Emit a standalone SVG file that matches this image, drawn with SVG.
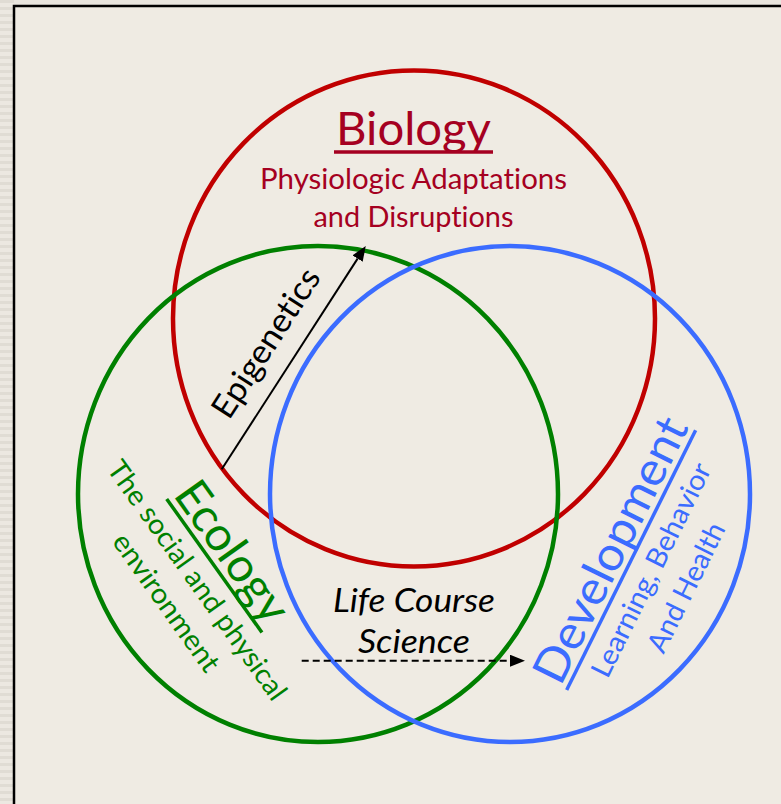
<svg xmlns="http://www.w3.org/2000/svg" width="781" height="804" viewBox="0 0 781 804">
<defs>
<style>
.t{font-family:Lato,"Open Sans","Noto Sans",sans-serif;font-variant-ligatures:none}
.ring{fill:none;stroke-width:4.5}
.bio{fill:#a50021}
.eco{fill:#008000}
.dev{fill:#3b6cff}
.conn{stroke:#000;stroke-width:2;fill:none}
</style>
<pattern id="stripes" width="14" height="7" patternUnits="userSpaceOnUse">
<rect width="14" height="7" fill="#ece8e1"/>
<rect width="14" height="3" fill="#e0dcd4"/>
</pattern>
<marker id="ah" markerUnits="userSpaceOnUse" markerWidth="16" markerHeight="12" refX="0" refY="6" orient="auto">
<path d="M0,0 L15,6 L0,12 z" fill="#000"/>
</marker>
</defs>
<rect width="781" height="804" fill="#e9e5de"/>
<rect x="0" y="0" width="14" height="804" fill="url(#stripes)"/>
<rect x="14" y="6" width="800" height="820" fill="#efebe3" stroke="#000" stroke-width="2.5"/>

<g id="biology">
<ellipse class="ring" cx="414" cy="318.5" rx="241" ry="248" stroke="#c00000"/>
<text class="t bio" x="413.5" y="145" font-size="47" text-anchor="middle" textLength="155" lengthAdjust="spacingAndGlyphs">Biology</text>
<line x1="334" y1="152" x2="493" y2="152" stroke="#a50021" stroke-width="3.5"/>
<text class="t bio" x="413.5" y="189" font-size="28" text-anchor="middle" textLength="307" lengthAdjust="spacingAndGlyphs">Physiologic Adaptations</text>
<text class="t bio" x="413.5" y="227" font-size="28" text-anchor="middle" textLength="200" lengthAdjust="spacingAndGlyphs">and Disruptions</text>
</g>

<g id="ecology">
<ellipse class="ring" cx="318" cy="494" rx="240" ry="248" stroke="#008000"/>
<g transform="translate(172.4,494.9) rotate(54.5)">
<text class="t eco" x="0" y="0" font-size="47" textLength="162" lengthAdjust="spacingAndGlyphs">Ecology</text>
<line x1="0" y1="7" x2="164" y2="7" stroke="#008000" stroke-width="3.5"/>
<text class="t eco" x="84" y="39" font-size="28" text-anchor="middle" textLength="287" lengthAdjust="spacingAndGlyphs">The social and physical</text>
<text class="t eco" x="84" y="77" font-size="28" text-anchor="middle" textLength="163" lengthAdjust="spacingAndGlyphs">environment</text>
</g>
</g>

<g id="development">
<ellipse class="ring" cx="510" cy="494" rx="240" ry="248" stroke="#3b6cff"/>
<g transform="translate(560.4,686.9) rotate(-63.6)">
<text class="t dev" x="0" y="0" font-size="47" textLength="290" lengthAdjust="spacingAndGlyphs">Development</text>
<line x1="0" y1="7" x2="290" y2="7" stroke="#3b6cff" stroke-width="3.5"/>
<text class="t dev" x="145" y="39" font-size="28" text-anchor="middle" textLength="235" lengthAdjust="spacingAndGlyphs">Learning, Behavior</text>
<text class="t dev" x="145" y="78" font-size="28" text-anchor="middle" textLength="141" lengthAdjust="spacingAndGlyphs">And Health</text>
</g>
</g>

<g id="connectors">
<g id="epigenetics">
<line class="conn" x1="221.7" y1="469.3" x2="357.6" y2="258.6" marker-end="url(#ah)"/>
<text class="t" transform="translate(275.4,349.2) rotate(-57.2)" x="0" y="0" font-size="33" text-anchor="middle" textLength="171" lengthAdjust="spacingAndGlyphs" fill="#000">Epigenetics</text>
</g>
<g id="life-course">
<line class="conn" x1="301.7" y1="660.7" x2="510" y2="660.7" stroke-dasharray="7 4" marker-end="url(#ah)"/>
<text class="t" x="414" y="612" font-size="32.5" font-style="italic" text-anchor="middle" textLength="162" lengthAdjust="spacingAndGlyphs" fill="#000">Life Course</text>
<text class="t" x="414" y="653" font-size="32.5" font-style="italic" text-anchor="middle" textLength="112" lengthAdjust="spacingAndGlyphs" fill="#000">Science</text>
</g>
</g>
</svg>
